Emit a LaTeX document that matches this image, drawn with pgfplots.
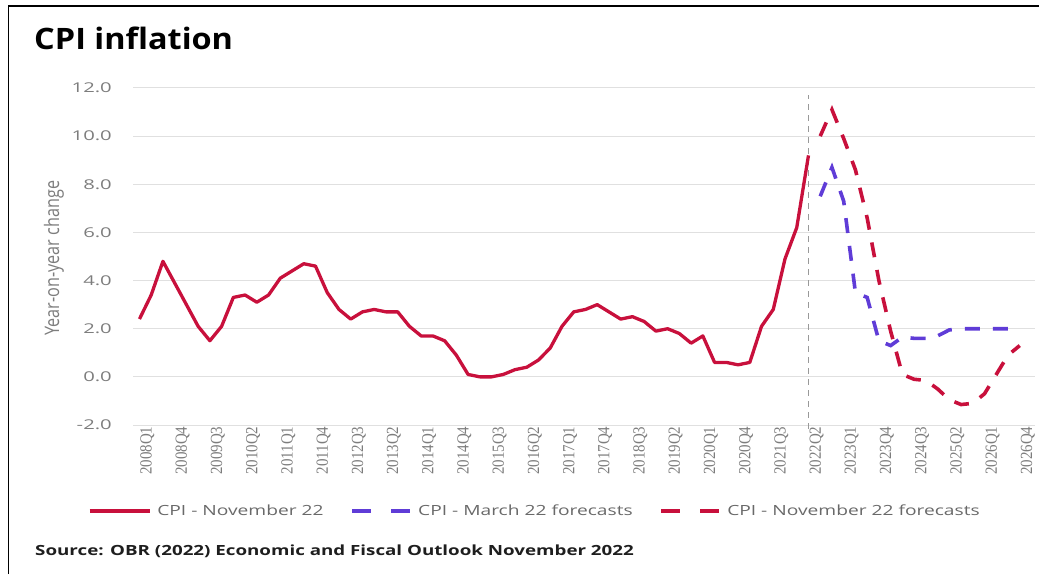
\documentclass[border=0pt]{standalone}
\usepackage{pgfplots}
\pgfplotsset{compat=1.18}
\usepackage{pgfplotstable}
\usepackage{fontspec}
\setmainfont{Open Sans}
\newfontfamily\titlefont[FakeStretch=1.1]{Open Sans}
\newfontfamily\widefont[FakeStretch=1.37]{Open Sans}
\newfontfamily\srcfont[FakeStretch=1.34]{Open Sans}
\newfontfamily\tickfont[FakeStretch=1.5]{Open Sans}
\newfontfamily\condfont[FakeStretch=0.81]{Open Sans}
\newfontfamily\xtickfont[FakeStretch=0.88]{Liberation Serif}

\definecolor{cpired}{RGB}{200,16,60}
\definecolor{cpiblue}{RGB}{95,60,215}
\definecolor{tickgray}{RGB}{125,125,125}
\definecolor{gridgray}{RGB}{224,224,224}
\definecolor{legtext}{RGB}{105,105,105}

\pgfplotsset{
  solidleg/.style={legend image code/.code={\draw[##1] (0pt,0pt) -- (60pt,0pt);}},
  dashleg/.style={legend image code/.code={\draw[##1, dash pattern=on 19pt off 20pt] (0pt,0pt) -- (58pt,0pt);}},
}

% CPI outturn, 2008Q1 = 0
\pgfplotstableread{
q val
0 2.4
1 3.4
2 4.8
3 3.9
4 3.0
5 2.1
6 1.5
7 2.1
8 3.3
9 3.4
10 3.1
11 3.4
12 4.1
13 4.4
14 4.7
15 4.6
16 3.5
17 2.8
18 2.4
19 2.7
20 2.8
21 2.7
22 2.7
23 2.1
24 1.7
25 1.7
26 1.5
27 0.9
28 0.1
29 0.0
30 0.0
31 0.1
32 0.3
33 0.4
34 0.7
35 1.2
36 2.1
37 2.7
38 2.8
39 3.0
40 2.7
41 2.4
42 2.5
43 2.3
44 1.9
45 2.0
46 1.8
47 1.4
48 1.7
49 0.6
50 0.6
51 0.5
52 0.6
53 2.1
54 2.8
55 4.9
56 6.2
57 9.2
}\cpiout

% March 22 forecast
\pgfplotstableread{
q val
58 7.5
59 8.7
60 7.3
61 3.5
62 3.3
63 1.5
64 1.3
65 1.65
66 1.6
67 1.6
68 1.7
69 1.95
70 2.0
71 2.0
72 2.0
73 2.0
74 2.0
75 2.0
}\cpimar

% November 22 forecast
\pgfplotstableread{
q val
58 10.0
59 11.1
60 9.9
61 8.6
62 6.6
63 4.0
64 1.9
65 0.1
66 -0.1
67 -0.15
68 -0.5
69 -0.95
70 -1.15
71 -1.1
72 -0.7
73 0.1
74 0.9
75 1.3
}\cpinov

\begin{document}
\begin{tikzpicture}
\path[use as bounding box] (0pt,0pt) rectangle (1039pt,574pt);
\draw[black, line width=1.8pt] (8.5pt,0pt) -- (8.5pt,568pt) -- (1039pt,568pt);

\node[anchor=base west, inner sep=0pt] at (34pt,524pt)
  {\titlefont\bfseries\fontsize{29.5}{34}\selectfont CPI inflation};
\node[anchor=base west, inner sep=0pt, text={rgb,255:red,30;green,30;blue,30}] at (35pt,19pt)
  {\srcfont\bfseries\fontsize{14}{16}\selectfont Source: OBR (2022) Economic and Fiscal Outlook November 2022};

\begin{axis}[
  at={(133pt,149pt)}, anchor=south west,
  scale only axis, width=902pt, height=337pt,
  xmin=-0.55, xmax=76.3, ymin=-2, ymax=12,
  clip=false,
  axis line style={draw=none},
  major tick length=0pt,
  ymajorgrids, grid style={gridgray, line width=1pt},
  ytick={-2,0,...,12},
  /pgf/number format/fixed,
  /pgf/number format/fixed zerofill,
  /pgf/number format/precision=1,
  /pgf/number format/assume math mode=true,
  yticklabel style={font=\tickfont\fontsize{13.5}{15}\selectfont, text=tickgray, anchor=east, inner sep=0pt, xshift=-21pt},
  xtick={0,3,...,75},
  xticklabels={2008Q1,2008Q4,2009Q3,2010Q2,2011Q1,2011Q4,2012Q3,2013Q2,2014Q1,2014Q4,2015Q3,2016Q2,2017Q1,2017Q4,2018Q3,2019Q2,2020Q1,2020Q4,2021Q3,2022Q2,2023Q1,2023Q4,2024Q3,2025Q2,2026Q1,2026Q4},
  xticklabel style={rotate=90, anchor=east, inner sep=0pt, yshift=-8pt, xshift=-1.5pt, font=\xtickfont\fontsize{17}{19}\selectfont, text=tickgray},
  ylabel={Year-on-year change},
  every axis y label/.style={at={(axis description cs:-0.0876,0.4955)}, rotate=90, anchor=center, font=\condfont\fontsize{20}{22}\selectfont, text=tickgray},
  legend columns=3,
  legend cell align=left,
  legend style={at={(axis description cs:-0.0499,-0.2552)}, anchor=west, draw=none, fill=none, inner sep=0pt, outer sep=0pt,
    font=\widefont\fontsize{14}{16}\selectfont, text=legtext,
    /tikz/every odd column/.append style={column sep=4pt},
    /tikz/every even column/.append style={column sep=25pt}},
]
\addplot[gray!80, line width=1.8pt, dash pattern=on 6pt off 5pt, forget plot]
  coordinates {(57,-2.15) (57,11.7)};
\addplot[cpired, line width=3.3pt, line join=round, solidleg]
  table[x=q, y=val] {\cpiout};
\addlegendentry{CPI - November 22}
\addplot[cpiblue, line width=3.6pt, dash pattern=on 15pt off 13pt, dashleg]
  table[x=q, y=val] {\cpimar};
\addlegendentry{CPI - March 22 forecasts}
\addplot[cpired, line width=3.6pt, dash pattern=on 15pt off 13pt, dashleg]
  table[x=q, y=val] {\cpinov};
\addlegendentry{CPI - November 22 forecasts}
\end{axis}
\end{tikzpicture}
\end{document}
